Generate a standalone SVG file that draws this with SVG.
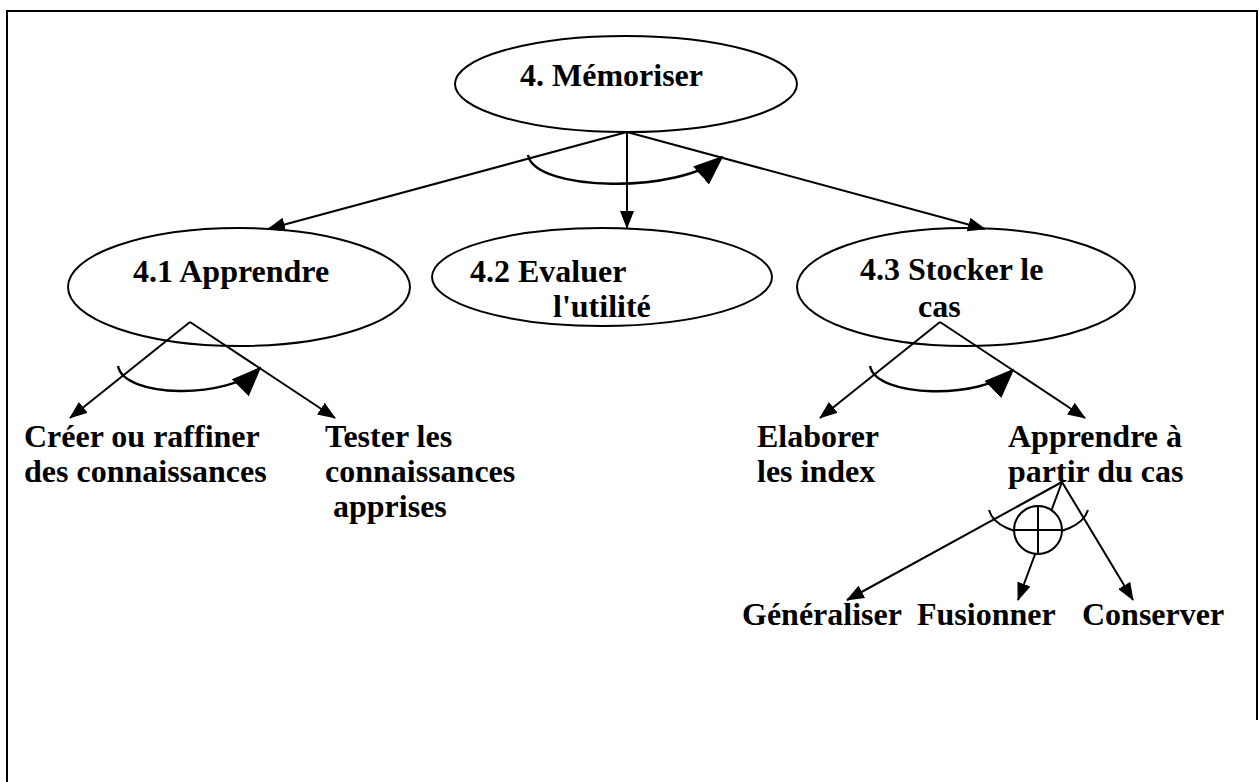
<svg xmlns="http://www.w3.org/2000/svg" width="1259" height="782" viewBox="0 0 1259 782">
  <style>
    .frame { stroke: #000; stroke-width: 2; fill: none; }
    .node { fill: #fff; stroke: #000; stroke-width: 2; }
    .lbl { font-family: "Liberation Serif", "Times New Roman", serif; font-weight: bold; font-size: 32px; fill: #000; }
    .edge { stroke: #000; stroke-width: 2; fill: none; marker-end: url(#arrow); }
    .seq { stroke: #000; stroke-width: 2.4; fill: none; marker-end: url(#bigArrow); }
    .plain { stroke: #000; stroke-width: 2; fill: none; }
  </style>
  <defs>
    <marker id="arrow" markerUnits="userSpaceOnUse" markerWidth="18" markerHeight="14" refX="17" refY="7" orient="auto">
      <path d="M0,0 L18,7 L0,14 Z" fill="#000"/>
    </marker>
    <marker id="bigArrow" markerUnits="userSpaceOnUse" markerWidth="30" markerHeight="24" refX="28" refY="12" orient="auto">
      <path d="M0,0 L30,12 L0,24 Z" fill="#000"/>
    </marker>
  </defs>

  <rect width="1259" height="782" fill="#fff"/>

  <!-- page frame -->
  <g id="frame">
    <line class="frame" x1="6" y1="11" x2="1258" y2="11"/>
    <line class="frame" x1="7" y1="11" x2="7" y2="782"/>
    <line class="frame" x1="1257" y1="11" x2="1257" y2="720"/>
  </g>

  <!-- connectors -->
  <g id="connectors">
    <line class="edge" x1="627" y1="132" x2="268" y2="229"/>
    <line class="edge" x1="627" y1="132" x2="627" y2="228"/>
    <line class="edge" x1="627" y1="132" x2="985" y2="229"/>
    <path class="seq" d="M528,155 C535,192 680,194 722,157"/>

    <line class="edge" x1="190" y1="322" x2="70" y2="418"/>
    <line class="edge" x1="190" y1="322" x2="335" y2="418"/>
    <path class="seq" d="M118,366 C124,398 228,400 260,368"/>

    <line class="edge" x1="940" y1="322" x2="820" y2="418"/>
    <line class="edge" x1="940" y1="322" x2="1085" y2="418"/>
    <path class="seq" d="M870,366 C876,398 982,400 1013,370"/>

    <line class="edge" x1="1062" y1="482" x2="847" y2="600"/>
    <line class="edge" x1="1062" y1="482" x2="1133" y2="600"/>
    <line class="edge" x1="1062" y1="482" x2="1018" y2="600"/>
    <path class="plain" d="M989,510 C998,542 1078,542 1088,510"/>
    <g id="xor">
      <circle class="node" cx="1038" cy="530" r="24"/>
      <line class="plain" x1="1014" y1="530" x2="1062" y2="530"/>
      <line class="plain" x1="1038" y1="506" x2="1038" y2="554"/>
    </g>
  </g>

  <g id="n4">
    <ellipse class="node" cx="626" cy="84" rx="171" ry="48"/>
    <text class="lbl" x="520" y="86">4. Mémoriser</text>
  </g>
  <g id="n41">
    <ellipse class="node" cx="239" cy="287" rx="171" ry="59" fill-opacity="0"/>
    <text class="lbl" x="133" y="282">4.1 Apprendre</text>
  </g>
  <g id="n42">
    <ellipse class="node" cx="602" cy="277" rx="170" ry="49"/>
    <text class="lbl" x="470" y="282">4.2 Evaluer</text>
    <text class="lbl" x="553" y="317">l'utilité</text>
  </g>
  <g id="n43">
    <ellipse class="node" cx="966" cy="287" rx="169" ry="59" fill-opacity="0"/>
    <text class="lbl" x="860" y="280">4.3 Stocker le</text>
    <text class="lbl" x="918" y="317">cas</text>
  </g>

  <g id="n411">
    <text class="lbl" x="24" y="447">Créer ou raffiner</text>
    <text class="lbl" x="24" y="482">des connaissances</text>
  </g>
  <g id="n412">
    <text class="lbl" x="325" y="447">Tester les</text>
    <text class="lbl" x="325" y="482">connaissances</text>
    <text class="lbl" x="333" y="517">apprises</text>
  </g>
  <g id="n431">
    <text class="lbl" x="757" y="447">Elaborer</text>
    <text class="lbl" x="757" y="482">les index</text>
  </g>
  <g id="n432">
    <text class="lbl" x="1008" y="447">Apprendre à</text>
    <text class="lbl" x="1008" y="482">partir du cas</text>
  </g>
  <g id="n4321">
    <text class="lbl" x="742" y="625">Généraliser</text>
  </g>
  <g id="n4322">
    <text class="lbl" x="917" y="625">Fusionner</text>
  </g>
  <g id="n4323">
    <text class="lbl" x="1082" y="625">Conserver</text>
  </g>
</svg>
